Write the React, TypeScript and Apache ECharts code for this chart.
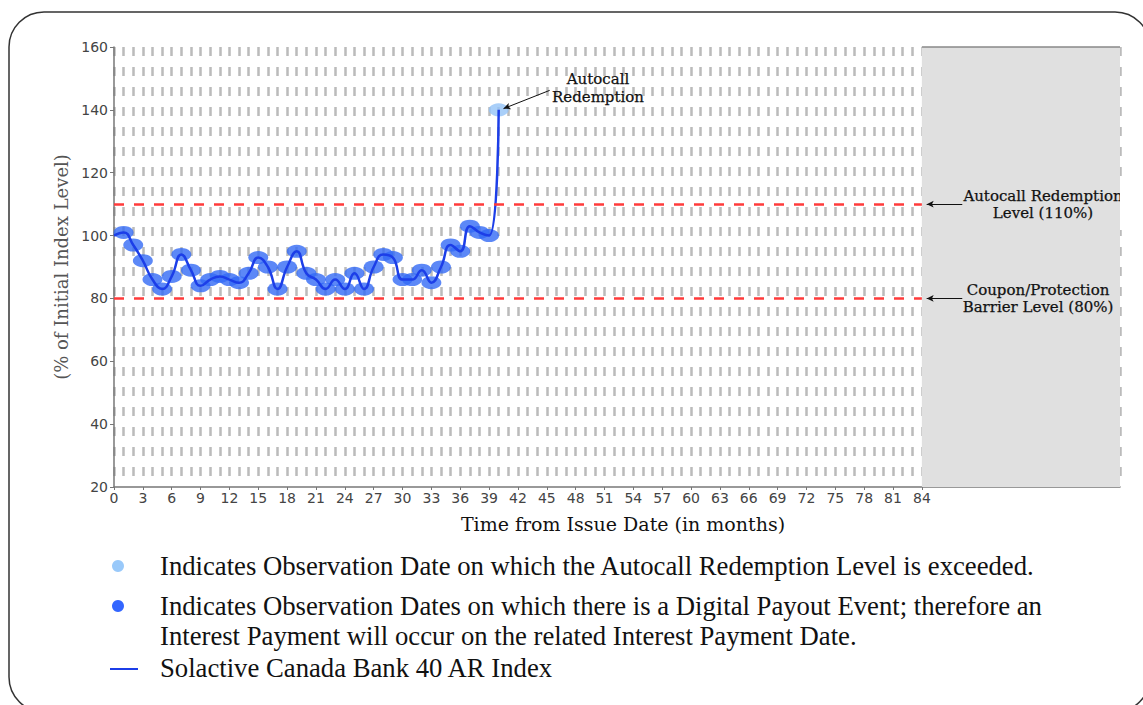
import React, { useEffect, useRef } from "react";
import * as echarts from "echarts";

// ---- data ----
const months = [
  0, 1, 2, 3, 4, 5, 6, 7, 8, 9, 10, 11, 12, 13, 14, 15, 16, 17, 18, 19, 20,
  21, 22, 23, 24, 25, 26, 27, 28, 29, 30, 31, 32, 33, 34, 35, 36, 37, 38, 39, 40,
];
const indexLevels = [
  100, 101, 97, 92, 86, 83, 87, 94, 89, 84, 86, 87, 86, 85, 88, 93, 90, 83, 90, 95, 88,
  86, 83, 86, 83, 88, 83, 90, 94, 93, 86, 86, 89, 85, 90, 97, 95, 103, 101, 100, 140,
];
const digitalPayoutMonths = [
  1, 2, 3, 4, 5, 6, 7, 8, 9, 10, 11, 12, 13, 14, 15, 16, 17, 18, 19, 20,
  21, 22, 23, 24, 25, 26, 27, 28, 29, 30, 31, 32, 33, 34, 35, 36, 37, 38, 39,
];
const autocallMonths = [40];
const xTickLabels = [
  0, 3, 6, 9, 12, 15, 18, 21, 24, 27, 30, 33, 36, 39, 42, 45, 48, 51, 54, 57, 60,
  63, 66, 69, 72, 75, 78, 81, 84,
];
const yMin = 20;
const yMax = 160;
const yStep = 20;
const termEnd = 84;
const xAxisEnd = 104.6;
const autocallLevel = 110;
const barrierLevel = 80;

const legendItems = [
  "Indicates Observation Date on which the Autocall Redemption Level is exceeded.",
  "Indicates Observation Dates on which there is a Digital Payout Event; therefore an",
  "Interest Payment will occur on the related Interest Payment Date.",
  "Solactive Canada Bank 40 AR Index",
];

const SERIF = "'DejaVu Serif', serif";
const TIMES = "'Liberation Serif', 'Times New Roman', serif";
const SANS = "'DejaVu Sans', sans-serif";

export default function App() {
  const ref = useRef<HTMLDivElement>(null);

  useEffect(() => {
    if (!ref.current) return;
    const chart = echarts.init(ref.current, null, { renderer: "svg" });

    const levelOf = (m: number) => indexLevels[months.indexOf(m)];
    const lineData = months.map((m, i) => [m, indexLevels[i]]);
    const payoutData = digitalPayoutMonths.map((m) => [m, levelOf(m)]);
    const autocallData = autocallMonths.map((m) => [m, levelOf(m)]);

    const redLine = {
      color: "#ff3b3b",
      width: 2.5,
      type: [10, 10] as any,
    };
    const arrowLine = { color: "#111", width: 1, type: "solid" as const };

    const annotStyle = {
      font: `15px ${SERIF}`,
      fill: "#111",
      stroke: "#111",
      lineWidth: 0.25,
      align: "center",
    };

    const option: any = {
      animation: false,
      grid: { left: 114, right: 23, top: 47, bottom: 218 },
      xAxis: [
        {
          type: "value",
          min: 0,
          max: xAxisEnd,
          interval: 3,
          axisLine: { show: true, onZero: false, lineStyle: { color: "#777", width: 1.5 } },
          axisTick: {
            show: true,
            length: 3,
            customValues: xTickLabels,
            lineStyle: { color: "#777" },
          },
          axisLabel: {
            customValues: xTickLabels,
            fontFamily: SANS,
            fontSize: 14,
            color: "#444",
            margin: 4,
          },
          splitLine: { show: false },
          name: "Time from Issue Date (in months)",
          nameLocation: "middle",
          nameGap: 27,
          nameTextStyle: {
            fontFamily: SERIF,
            fontSize: 19,
            color: "#111",
            padding: [0, 0, 0, 12],
          },
        },
        {
          type: "value",
          min: 0,
          max: xAxisEnd,
          interval: 1,
          position: "bottom",
          axisLine: { show: false },
          axisTick: { show: false },
          axisLabel: { show: false },
          splitLine: {
            show: true,
            lineStyle: { color: "#bbbbbb", width: 2.5, type: [9, 11] },
          },
        },
      ],
      yAxis: {
        type: "value",
        min: yMin,
        max: yMax,
        interval: yStep,
        axisLine: { show: true, lineStyle: { color: "#777", width: 1.5 } },
        axisTick: { show: true, length: 4, lineStyle: { color: "#777" } },
        axisLabel: { fontFamily: SANS, fontSize: 14, color: "#444", margin: 6 },
        splitLine: { show: false },
        name: "(% of Initial Index Level)",
        nameLocation: "middle",
        nameRotate: 90,
        nameGap: 44,
        nameTextStyle: { fontFamily: SERIF, fontSize: 18, color: "#555" },
      },
      series: [
        {
          name: "levels",
          type: "line",
          data: [],
          silent: true,
          z: 1,
          markArea: {
            silent: true,
            itemStyle: { color: "#e0e0e0" },
            data: [[{ xAxis: termEnd }, { xAxis: xAxisEnd }]],
          },
          markLine: {
            silent: true,
            animation: false,
            label: { show: false },
            symbol: ["none", "none"],
            data: [
              [
                { coord: [0, autocallLevel], lineStyle: redLine, symbol: "none" },
                { coord: [termEnd, autocallLevel], symbol: "none" },
              ],
              [
                { coord: [0, barrierLevel], lineStyle: redLine, symbol: "none" },
                { coord: [termEnd, barrierLevel], symbol: "none" },
              ],
              [
                { coord: [termEnd, yMax], lineStyle: { color: "#888", width: 1.5, type: "solid" }, symbol: "none" },
                { coord: [xAxisEnd, yMax], symbol: "none" },
              ],
              [
                { coord: [88.2, autocallLevel], lineStyle: arrowLine, symbol: "none" },
                { coord: [84.5, autocallLevel], symbol: "arrow", symbolSize: [5, 7] },
              ],
              [
                { coord: [88.2, barrierLevel], lineStyle: arrowLine, symbol: "none" },
                { coord: [84.5, barrierLevel], symbol: "arrow", symbolSize: [5, 7] },
              ],
              [
                { coord: [45.3, 146.2], lineStyle: arrowLine, symbol: "none" },
                { coord: [40.5, 140.4], symbol: "arrow", symbolSize: [5, 7] },
              ],
            ],
          },
        },
        {
          name: "Digital Payout Event",
          type: "scatter",
          data: payoutData,
          symbol: "circle",
          symbolSize: [20, 13],
          itemStyle: { color: "#336af5" },
          z: 2,
        },
        {
          name: "Autocall Redemption",
          type: "scatter",
          data: autocallData,
          symbol: "circle",
          symbolSize: [20, 13],
          itemStyle: { color: "#93c3f7" },
          z: 2,
        },
        {
          name: "Solactive Canada Bank 40 AR Index",
          type: "line",
          data: lineData,
          smooth: 0.5,
          showSymbol: false,
          symbol: "none",
          lineStyle: { color: "#1c3ee8", width: 2.5 },
          z: 4,
        },
      ],
      graphic: [
        {
          type: "rect",
          silent: true,
          z: 0,
          shape: { x: 9, y: 12, width: 1141, height: 700, r: 35 },
          style: { fill: "none", stroke: "#333", lineWidth: 1.5 },
        },
        {
          type: "text",
          x: 598,
          y: 88,
          z: 10,
          style: {
            ...annotStyle,
            text: "Autocall\nRedemption",
            verticalAlign: "middle",
            lineHeight: 18,
          },
        },
        {
          type: "text",
          x: 1043,
          y: 187,
          z: 10,
          style: {
            ...annotStyle,
            text: "Autocall Redemption\nLevel (110%)",
            verticalAlign: "top",
            lineHeight: 17,
          },
        },
        {
          type: "text",
          x: 1038,
          y: 281,
          z: 10,
          style: {
            ...annotStyle,
            text: "Coupon/Protection\nBarrier Level (80%)",
            verticalAlign: "top",
            lineHeight: 17,
          },
        },
        {
          type: "rect",
          silent: true,
          z: 11,
          shape: { x: 1120, y: 180, width: 23, height: 50 },
          style: { fill: "#fff" },
        },
        // legend
        {
          type: "circle",
          z: 10,
          shape: { cx: 118, cy: 566, r: 6 },
          style: { fill: "#99c9fa" },
        },
        {
          type: "circle",
          z: 10,
          shape: { cx: 118, cy: 606, r: 6 },
          style: { fill: "#3366ff" },
        },
        {
          type: "line",
          z: 10,
          shape: { x1: 110, y1: 669, x2: 138, y2: 669 },
          style: { stroke: "#1c3ee8", lineWidth: 2 },
        },
        ...legendItems.map((t, i) => ({
          type: "text",
          x: 160,
          y: [566, 606, 636, 668][i],
          z: 10,
          style: {
            text: t,
            font: `26.7px ${TIMES}`,
            fill: "#111",
            align: "left",
            verticalAlign: "middle",
          },
        })),
      ],
    };

    chart.setOption(option);
    return () => chart.dispose();
  }, []);

  return (
    <div
      ref={ref}
      style={{ position: "fixed", left: 0, top: 0, width: 1143, height: 705, background: "#fff" }}
    />
  );
}
